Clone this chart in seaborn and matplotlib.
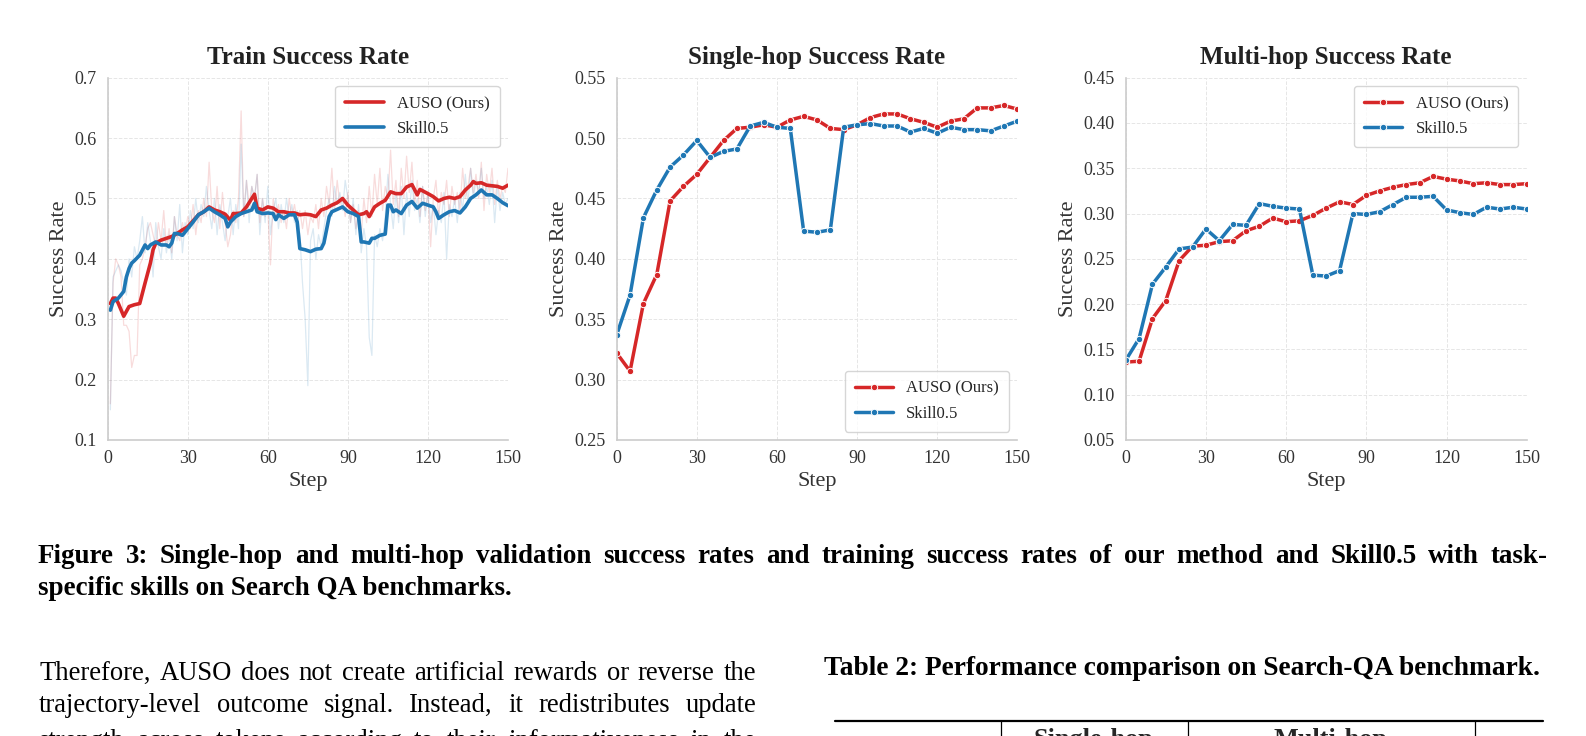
import matplotlib
matplotlib.use("Agg")
import matplotlib.pyplot as plt
import seaborn as sns
from matplotlib.lines import Line2D

# ---------------- data ----------------
train_steps = list(range(1, 151))

auso_raw = [
    0.16, 0.36, 0.40, 0.39, 0.37, 0.29, 0.29, 0.28, 0.22, 0.24,
    0.24, 0.39, 0.40, 0.42, 0.45, 0.46, 0.44, 0.42, 0.46, 0.43,
    0.48, 0.42, 0.45, 0.41, 0.47, 0.44, 0.43, 0.46, 0.44, 0.47,
    0.45, 0.49, 0.44, 0.48, 0.46, 0.50, 0.47, 0.56, 0.48, 0.46,
    0.52, 0.45, 0.51, 0.46, 0.42, 0.44, 0.48, 0.46, 0.50, 0.645,
    0.47, 0.53, 0.49, 0.52, 0.50, 0.54, 0.46, 0.50, 0.47, 0.48,
    0.39, 0.50, 0.47, 0.49, 0.46, 0.48, 0.45, 0.50, 0.47, 0.49,
    0.46, 0.48, 0.45, 0.48, 0.44, 0.47, 0.46, 0.49, 0.45, 0.50,
    0.47, 0.52, 0.49, 0.55, 0.48, 0.53, 0.49, 0.50, 0.47, 0.51,
    0.46, 0.49, 0.45, 0.48, 0.44, 0.50, 0.46, 0.52, 0.47, 0.54,
    0.49, 0.55, 0.48, 0.52, 0.50, 0.58, 0.49, 0.53, 0.47, 0.55,
    0.50, 0.57, 0.51, 0.56, 0.49, 0.53, 0.47, 0.52, 0.48, 0.51,
    0.42, 0.50, 0.53, 0.47, 0.51, 0.49, 0.53, 0.47, 0.52, 0.49,
    0.51, 0.48, 0.55, 0.50, 0.52, 0.55, 0.51, 0.54, 0.50, 0.56,
    0.48, 0.54, 0.51, 0.55, 0.49, 0.53, 0.50, 0.52, 0.51, 0.55,
]
skill_raw = [
    0.15, 0.37, 0.38, 0.39, 0.38, 0.36, 0.34, 0.40, 0.37, 0.42,
    0.40, 0.43, 0.47, 0.41, 0.46, 0.43, 0.37, 0.46, 0.42, 0.40,
    0.45, 0.41, 0.44, 0.40, 0.47, 0.43, 0.49, 0.41, 0.46, 0.44,
    0.48, 0.45, 0.50, 0.46, 0.49, 0.47, 0.52, 0.48, 0.45, 0.50,
    0.44, 0.49, 0.46, 0.43, 0.47, 0.50, 0.44, 0.49, 0.45, 0.59,
    0.47, 0.53, 0.46, 0.52, 0.50, 0.54, 0.44, 0.50, 0.46, 0.52,
    0.44, 0.48, 0.50, 0.45, 0.49, 0.46, 0.50, 0.47, 0.49, 0.46,
    0.48, 0.44, 0.36, 0.30, 0.19, 0.43, 0.45, 0.40, 0.44, 0.42,
    0.45, 0.48, 0.50, 0.47, 0.52, 0.49, 0.51, 0.48, 0.53, 0.50,
    0.46, 0.50, 0.44, 0.49, 0.41, 0.45, 0.42, 0.27, 0.24, 0.44,
    0.42, 0.45, 0.43, 0.47, 0.54, 0.49, 0.45, 0.51, 0.46, 0.52,
    0.44, 0.51, 0.47, 0.53, 0.48, 0.50, 0.46, 0.52, 0.47, 0.51,
    0.46, 0.49, 0.44, 0.48, 0.46, 0.51, 0.40, 0.49, 0.47, 0.50,
    0.46, 0.51, 0.48, 0.54, 0.49, 0.55, 0.50, 0.53, 0.51, 0.55,
    0.50, 0.52, 0.49, 0.53, 0.46, 0.52, 0.48, 0.51, 0.49, 0.50,
]

auso_smooth_steps = [1, 2, 3, 4, 6, 8, 10, 12, 14, 16, 17, 18, 20, 22, 24, 26, 28, 30,
                     32, 34, 36, 38, 40, 42, 44, 46, 47, 48, 50, 52, 54, 55, 56, 58,
                     60, 62, 64, 66, 68, 70, 72, 74, 76, 78, 80, 82, 84, 86, 88, 90,
                     92, 94, 96, 97, 98, 100, 102, 104, 106, 108, 110, 112, 114, 116,
                     117, 120, 122, 124, 126, 128, 130, 132, 134, 136, 137, 138, 140,
                     142, 144, 146, 148, 150]
auso_smooth = [0.326, 0.335, 0.335, 0.326, 0.305, 0.321, 0.324, 0.326, 0.360, 0.393,
               0.415, 0.426, 0.431, 0.434, 0.437, 0.442, 0.448, 0.453, 0.463, 0.473,
               0.478, 0.486, 0.481, 0.478, 0.474, 0.464, 0.475, 0.475, 0.476, 0.486,
               0.500, 0.507, 0.484, 0.481, 0.486, 0.484, 0.478, 0.478, 0.476, 0.476,
               0.473, 0.474, 0.473, 0.470, 0.481, 0.484, 0.489, 0.493, 0.500, 0.489,
               0.481, 0.473, 0.475, 0.478, 0.470, 0.486, 0.492, 0.497, 0.511, 0.508,
               0.508, 0.519, 0.523, 0.506, 0.515, 0.508, 0.503, 0.496, 0.500, 0.502,
               0.500, 0.503, 0.514, 0.522, 0.528, 0.525, 0.526, 0.522, 0.521, 0.520,
               0.517, 0.522]

skill_smooth_steps = [1, 2, 4, 6, 7, 8, 9, 10, 12, 14, 15, 16, 18, 20, 22, 23, 24, 25,
                      26, 28, 30, 32, 34, 36, 38, 40, 42, 44, 45, 46, 48, 50, 52, 54,
                      55, 56, 58, 60, 62, 63, 64, 66, 68, 70, 71, 72, 74, 76, 78, 80,
                      81, 82, 83, 84, 86, 88, 90, 92, 94, 95, 96, 98, 99, 100, 102, 104,
                      105, 106, 107, 108, 110, 112, 114, 116, 118, 120, 122, 123, 124,
                      126, 128, 130, 132, 134, 136, 138, 140, 142, 144, 146, 148, 150]
skill_smooth = [0.315, 0.329, 0.335, 0.346, 0.370, 0.384, 0.393, 0.397, 0.406, 0.423,
                0.417, 0.423, 0.428, 0.423, 0.423, 0.420, 0.426, 0.442, 0.442, 0.439,
                0.450, 0.461, 0.473, 0.478, 0.484, 0.478, 0.473, 0.467, 0.453, 0.461,
                0.470, 0.475, 0.478, 0.481, 0.492, 0.478, 0.475, 0.476, 0.475, 0.465,
                0.473, 0.467, 0.473, 0.473, 0.461, 0.417, 0.415, 0.412, 0.416, 0.417,
                0.426, 0.448, 0.470, 0.478, 0.482, 0.486, 0.478, 0.475, 0.470, 0.428,
                0.428, 0.426, 0.434, 0.434, 0.439, 0.441, 0.489, 0.489, 0.478, 0.481,
                0.475, 0.489, 0.495, 0.484, 0.492, 0.489, 0.486, 0.478, 0.467, 0.473,
                0.478, 0.480, 0.476, 0.486, 0.500, 0.506, 0.514, 0.506, 0.506, 0.500,
                0.493, 0.488]

val_steps = list(range(0, 151, 5))

single_auso = [0.322, 0.307, 0.363, 0.387, 0.448, 0.460, 0.470, 0.484, 0.498, 0.508,
               0.509, 0.511, 0.509, 0.515, 0.518, 0.515, 0.508, 0.507, 0.511, 0.517,
               0.520, 0.520, 0.516, 0.513, 0.509, 0.514, 0.516, 0.525, 0.525, 0.527,
               0.524]
single_skill = [0.337, 0.370, 0.434, 0.457, 0.476, 0.486, 0.498, 0.484, 0.489, 0.491,
                0.510, 0.513, 0.509, 0.508, 0.423, 0.422, 0.424, 0.509, 0.511, 0.512,
                0.510, 0.510, 0.505, 0.508, 0.504, 0.509, 0.507, 0.507, 0.506, 0.510,
                0.514]

multi_auso = [0.136, 0.137, 0.184, 0.204, 0.248, 0.264, 0.265, 0.269, 0.270, 0.281,
              0.286, 0.295, 0.291, 0.292, 0.298, 0.306, 0.313, 0.310, 0.320, 0.325,
              0.329, 0.332, 0.334, 0.341, 0.338, 0.336, 0.333, 0.334, 0.332, 0.332,
              0.333]
multi_skill = [0.138, 0.162, 0.222, 0.241, 0.261, 0.263, 0.283, 0.270, 0.288, 0.287,
               0.311, 0.308, 0.306, 0.305, 0.232, 0.231, 0.237, 0.300, 0.299, 0.302,
               0.310, 0.318, 0.318, 0.319, 0.304, 0.301, 0.299, 0.307, 0.305, 0.307,
               0.305]

series_names = ["AUSO (Ours)", "Skill0.5"]
titles = ["Train Success Rate", "Single-hop Success Rate", "Multi-hop Success Rate"]
x_ticks = [0, 30, 60, 90, 120, 150]

caption_1 = ("Figure 3: Single-hop and multi-hop validation success rates and training "
             "success rates of our method and Skill0.5 with task-")
caption_2 = "specific skills on Search QA benchmarks."
body_lines = [
    "Therefore, AUSO does not create artificial rewards or reverse the",
    "trajectory-level outcome signal. Instead, it redistributes update",
    "strength across tokens according to their informativeness in the",
]
table_caption = "Table 2: Performance comparison on Search-QA benchmark."
table_headers = ["Single-hop", "Multi-hop"]

# ---------------- style ----------------
RED = "#d62728"
BLUE = "#1f77b4"
W, H = 1586, 736

sns.set_theme(style="whitegrid")
plt.rcParams['font.family'] = ['Liberation Serif', 'DejaVu Serif']
plt.rcParams['axes.edgecolor'] = '#cccccc'
plt.rcParams['axes.linewidth'] = 1.2

fig = plt.figure(figsize=(W / 100, H / 100), dpi=100)
fig.patch.set_facecolor("white")


def px_axes(left, right, top, bottom):
    return fig.add_axes([left / W, 1 - bottom / H, (right - left) / W, (bottom - top) / H])


ax_train = px_axes(107.7, 508, 77.7, 440)
ax_single = px_axes(616.7, 1017.3, 77.7, 440)
ax_multi = px_axes(1125.7, 1526.7, 77.7, 440)

# train: raw (faint) + smoothed
sns.lineplot(x=train_steps, y=auso_raw, ax=ax_train, color=RED, lw=0.9, alpha=0.16)
sns.lineplot(x=train_steps, y=skill_raw, ax=ax_train, color=BLUE, lw=0.9, alpha=0.16)
sns.lineplot(x=auso_smooth_steps, y=auso_smooth, ax=ax_train, color=RED, lw=2.6)
sns.lineplot(x=skill_smooth_steps, y=skill_smooth, ax=ax_train, color=BLUE, lw=2.6)

mk = dict(marker="o", markersize=4.6, markeredgecolor="white", markeredgewidth=0.7, lw=2.5)
sns.lineplot(x=val_steps, y=single_auso, ax=ax_single, color=RED, **mk)
sns.lineplot(x=val_steps, y=single_skill, ax=ax_single, color=BLUE, **mk)
sns.lineplot(x=val_steps, y=multi_auso, ax=ax_multi, color=RED, **mk)
sns.lineplot(x=val_steps, y=multi_skill, ax=ax_multi, color=BLUE, **mk)

ylims = [(0.1, 0.7), (0.25, 0.55), (0.05, 0.45)]
ysteps = [0.1, 0.05, 0.05]
yfmt = ["{:.1f}", "{:.2f}", "{:.2f}"]
legend_loc = ["upper right", "lower right", "upper right"]
for i, ax in enumerate([ax_train, ax_single, ax_multi]):
    lo, hi = ylims[i]
    n = int(round((hi - lo) / ysteps[i]))
    yt = [lo + k * ysteps[i] for k in range(n + 1)]
    ax.set_xlim(0, 150)
    ax.set_ylim(lo, hi)
    ax.set_xticks(x_ticks)
    ax.set_yticks(yt)
    ax.set_yticklabels([yfmt[i].format(v) for v in yt])
    ax.tick_params(axis="both", length=0, labelsize=13, labelcolor="#333333")
    ax.tick_params(axis="x", pad=7)
    ax.tick_params(axis="y", pad=8)
    ax.grid(True, ls="--", lw=0.7, color="#e6e6e6")
    for s in ["top", "right"]:
        ax.spines[s].set_visible(False)
    ax.set_title(titles[i], fontsize=18, fontweight="bold", pad=10, color="#222222")
    ax.set_xlabel("Step", fontsize=16, labelpad=4, color="#333333")
    ax.set_ylabel("Success Rate", fontsize=16, labelpad=4, color="#333333")
    if i == 0:
        handles = [Line2D([], [], color=c, lw=2.6) for c in (RED, BLUE)]
    else:
        handles = [Line2D([], [], color=c, lw=2.5, marker="o", markersize=4.6,
                          markeredgecolor="white", markeredgewidth=0.7) for c in (RED, BLUE)]
    leg = ax.legend(handles, series_names, loc=legend_loc[i], fontsize=12,
                    frameon=True, fancybox=True, handlelength=2.3,
                    labelspacing=0.55, borderpad=0.6)
    leg.get_frame().set_edgecolor("#cccccc")
    leg.get_frame().set_linewidth(1.0)

# ---------------- page text around the figure ----------------
renderer = fig.canvas.get_renderer()


def fit_size(text, width, weight="normal", size=18.0):
    probe = fig.text(0, 0, text, fontsize=size, fontweight=weight)
    w = probe.get_window_extent(renderer).width
    probe.remove()
    return size * width / w


def line_text(words_line, x0, x1, y, size, weight="normal", justify=True):
    if not justify:
        fig.text(x0 / W, 1 - y / H, words_line, fontsize=size, fontweight=weight,
                 va="baseline", ha="left", color="black")
        return
    words = words_line.split(" ")
    items = [fig.text(0, 1 - y / H, w, fontsize=size, fontweight=weight,
                      va="baseline", ha="left", color="black") for w in words]
    widths = [t.get_window_extent(renderer).width for t in items]
    gap = (x1 - x0 - sum(widths)) / max(len(words) - 1, 1)
    x = x0
    for t, w in zip(items, widths):
        t.set_x(x / W)
        x += w + gap


cap_size = 0.94 * fit_size(caption_1, 1510, weight="bold")
line_text(caption_1, 38, 1548, 563, cap_size, weight="bold")
line_text(caption_2, 38, 1548, 595, cap_size, weight="bold", justify=False)

body_size = 0.97 * fit_size(body_lines[0], 717)
for k, ln in enumerate(body_lines):
    line_text(ln, 39, 756, [680, 712, 748][k], body_size)

tab_size = fit_size(table_caption, 714, weight="bold")
fig.text(1182 / W, 1 - 675 / H, table_caption, fontsize=tab_size, fontweight="bold",
         ha="center", va="baseline", color="black")

# table top rule and column separators
fig.add_artist(Line2D([835 / W, 1543 / W], [1 - 721 / H, 1 - 721 / H],
                      color="black", lw=1.6))
for xv in [1001, 1188, 1475]:
    fig.add_artist(Line2D([xv / W, xv / W], [1 - 721 / H, 0], color="black", lw=0.9))
fig.text(1094 / W, 1 - 746 / H, table_headers[0], fontsize=0.96 * tab_size,
         fontweight="bold", ha="center", va="baseline")
fig.text(1331 / W, 1 - 746 / H, table_headers[1], fontsize=0.96 * tab_size,
         fontweight="bold", ha="center", va="baseline")

fig.savefig("out.png", dpi=100, facecolor="white")
